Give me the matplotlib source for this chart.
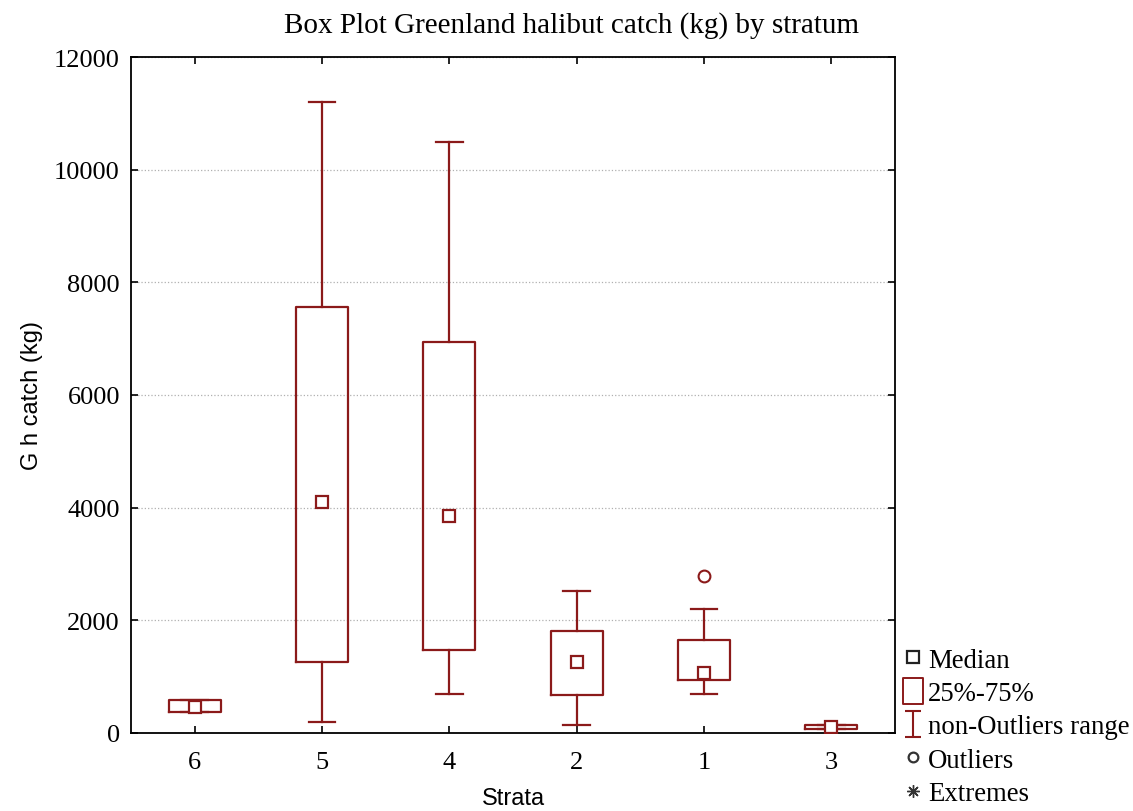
import matplotlib
matplotlib.use("Agg")
import matplotlib.pyplot as plt
from matplotlib.lines import Line2D
from matplotlib.path import Path

strata = ['6', '5', '4', '2', '1', '3']
medians = [470, 4100, 3850, 1260, 1060, 110]
q1 = [375, 1265, 1475, 670, 945, 65]
q3 = [585, 7555, 6940, 1805, 1655, 145]
whisker_lo = [375, 200, 690, 140, 700, 65]
whisker_hi = [585, 11210, 10490, 2515, 2195, 145]
outliers = [[], [], [], [], [2790], []]

red = '#8B1A1A'
serif = 'Liberation Serif'
sans = 'Liberation Sans'

fig = plt.figure(figsize=(11.33, 8.12), dpi=100)
ax = fig.add_axes([131/1133, 78/812, 764/1133, 676/812])

pos = list(range(1, len(strata) + 1))
stats = []
for i in range(len(strata)):
    stats.append({'med': medians[i], 'q1': q1[i], 'q3': q3[i],
                  'whislo': whisker_lo[i], 'whishi': whisker_hi[i],
                  'fliers': outliers[i], 'label': strata[i]})

ax.bxp(stats, positions=pos, widths=0.41, capwidths=0.21, showfliers=True,
       boxprops=dict(color=red, linewidth=1.6),
       whiskerprops=dict(color=red, linewidth=1.6),
       capprops=dict(color=red, linewidth=1.6),
       medianprops=dict(visible=False),
       flierprops=dict(marker='o', markerfacecolor='white', markeredgecolor=red,
                       markersize=8.5, markeredgewidth=1.5))
ax.plot(pos, medians, linestyle='none', marker='s', markersize=8.5,
        markerfacecolor='white', markeredgecolor=red, markeredgewidth=1.6, zorder=5)

ax.set_xlim(0.5, 6.5)
ax.set_ylim(0, 12000)
ax.set_yticks(range(0, 12001, 2000))
ax.set_xticks(pos)
ax.set_xticklabels(strata)
ax.yaxis.grid(True, linestyle=':', color='#b0b0b0', linewidth=0.9)
ax.set_axisbelow(True)
ax.tick_params(direction='in', top=True, right=True, length=5, width=1.2,
               labelsize=19)
ax.tick_params(axis='x', pad=13)
ax.tick_params(axis='y', pad=8)
for lab in ax.get_xticklabels() + ax.get_yticklabels():
    lab.set_fontfamily(serif)
for sp in ax.spines.values():
    sp.set_linewidth(1.3)

ax.set_ylabel('G h catch (kg)', fontfamily=sans, fontsize=17)
ax.yaxis.set_label_coords(-0.115, 0.5)
ax.set_xlabel('Strata', fontfamily=sans, fontsize=17)
ax.xaxis.set_label_coords(0.5, -0.08)

fig.text(572/1133, 1 - 26/812, 'Box Plot Greenland halibut catch (kg) by stratum',
         ha='center', va='center', fontfamily=serif, fontsize=21)

# legend
rect = Path([(-0.75, -1), (0.75, -1), (0.75, 1), (-0.75, 1), (-0.75, -1)],
            [Path.MOVETO, Path.LINETO, Path.LINETO, Path.LINETO, Path.CLOSEPOLY])
ibeam = Path([(-0.6, 1), (0.6, 1), (0, 1), (0, -1), (-0.6, -1), (0.6, -1)],
             [Path.MOVETO, Path.LINETO, Path.MOVETO, Path.LINETO, Path.MOVETO, Path.LINETO])
handles = [
    Line2D([], [], linestyle='none', marker='s', markersize=8, markerfacecolor='white',
           markeredgecolor='#222222', markeredgewidth=1.6),
    Line2D([], [], linestyle='none', marker=rect, markersize=19, markerfacecolor='white',
           markeredgecolor=red, markeredgewidth=1.4),
    Line2D([], [], linestyle='none', marker=ibeam, markersize=19, markerfacecolor='none',
           markeredgecolor=red, markeredgewidth=1.5),
    Line2D([], [], linestyle='none', marker='o', markersize=7, markerfacecolor='white',
           markeredgecolor='#333333', markeredgewidth=1.6),
    Line2D([], [], linestyle='none', marker=(8, 2, 0), markersize=9,
           markeredgecolor='#333333', markeredgewidth=1.0),
]
labels = ['Median', '25%-75%', 'non-Outliers range', 'Outliers', 'Extremes']
fig.legend(handles, labels, loc='center left', bbox_to_anchor=(900/1133, 1 - 728/812),
           frameon=False, borderpad=0, borderaxespad=0, handlelength=0.95,
           handletextpad=0.1, labelspacing=0.31,
           prop={'family': serif, 'size': 19.3})

fig.savefig('out.png', dpi=100)
